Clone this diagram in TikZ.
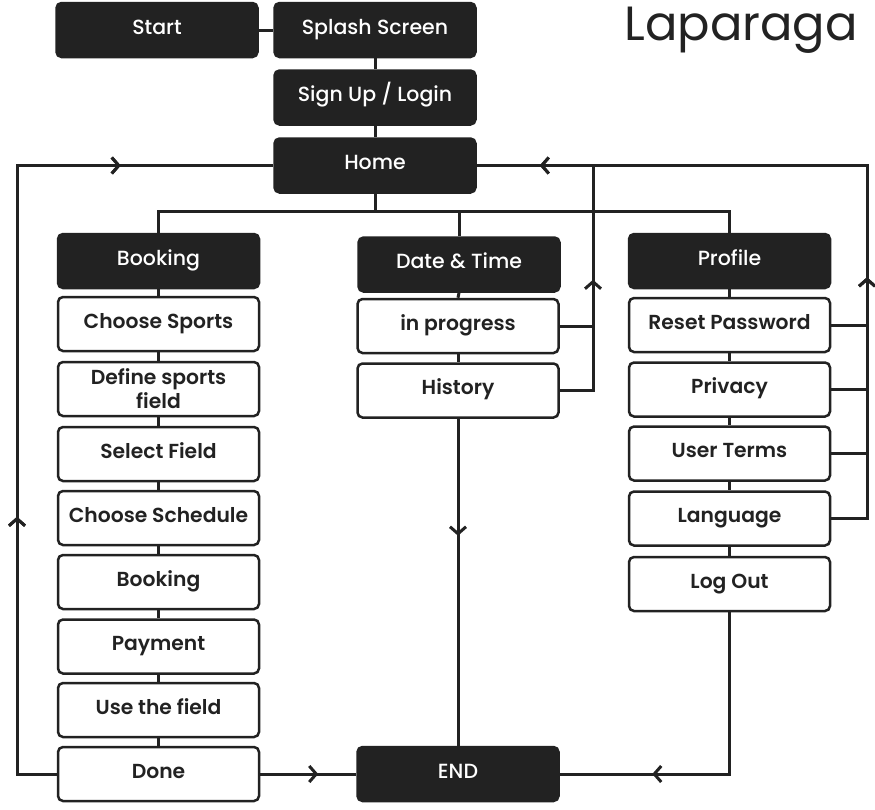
\documentclass[tikz,border=0pt]{standalone}
\usepackage{fontspec}
\setmainfont{Poppins}
\newfontfamily\popmed{Poppins Medium}
\newfontfamily\popsemi{Poppins SemiBold}
\usetikzlibrary{arrows.meta,decorations.markings}
\definecolor{ink}{HTML}{222222}
\tikzset{
  base/.style={rounded corners=5pt, minimum width=201pt, minimum height=54pt, inner sep=0pt, line width=2.5pt, align=center, text height=14pt, text depth=6pt},
  dark/.style={base, draw=ink, fill=ink, text=white, font=\fontsize{20.5}{24}\selectfont\popmed},
  light/.style={base, draw=ink, fill=white, text=ink, font=\fontsize{20.3}{24}\selectfont\popsemi},
  conn/.style={draw=ink, line width=3pt},
  chev/.style={postaction={decorate}, decoration={markings, mark=at position #1 with {\arrow[ink, line width=3pt]{Straight Barb[length=7pt, width=16pt]}}}}
}
\begin{document}
\begin{tikzpicture}[x=1pt, y=-1pt]
\useasboundingbox (0,0) rectangle (875,809);
% title
\node[anchor=base east, font=\fontsize{48}{52}\selectfont, text=ink, inner sep=0pt] (title) at (858,40) {Laparaga};
% top flow
\node[dark] (start) at (157,30) {Start};
\node[dark] (splash) at (375,30) {Splash Screen};
\node[dark] (signup) at (375,97.5) {Sign Up / Login};
\node[dark] (home) at (375,165.5) {Home};
% headers
\node[dark] (booking) at (158.5,261) {Booking};
\node[dark] (dt) at (459,264.5) {Date \& Time};
\node[dark] (profile) at (729.5,261) {Profile};
\node[dark] (end) at (458,774) {END};
% booking column
\node[light] (b1) at (158.5,324) {Choose Sports};
\node[light, text height=40pt, text depth=2pt] (b2) at (158.5,389) {Define sports\\field};
\node[light] (b3) at (158.5,454) {Select Field};
\node[light] (b4) at (158.5,518) {Choose Schedule};
\node[light] (b5) at (158.5,582) {Booking};
\node[light] (b6) at (158.5,646.5) {Payment};
\node[light] (b7) at (158.5,710) {Use the field};
\node[light] (b8) at (158.5,774) {Done};
% date column
\node[light] (d1) at (458,326) {in progress};
\node[light] (d2) at (458,390.5) {History};
% profile column
\node[light] (p1) at (729.5,325) {Reset Password};
\node[light] (p2) at (729.5,389.5) {Privacy};
\node[light] (p3) at (729.5,453.5) {User Terms};
\node[light] (p4) at (729.5,518.5) {Language};
\node[light] (p5) at (729.5,584) {Log Out};
% hub coordinates
\coordinate (hub) at (375,211);
\coordinate (lx) at (17,0);
\coordinate (mx) at (593,0);
\coordinate (rx) at (867,0);
\draw[conn] (start.east) -- (splash.west);
\draw[conn] (splash.south) -- (signup.north);
\draw[conn] (signup.south) -- (home.north);
\draw[conn] (home.south) -- (hub);
\draw[conn] (booking.north) |- (hub) -| (profile.north);
\draw[conn] (dt.north) -- (dt.north |- hub);
% column links
\draw[conn] (booking.south) -- (b1.north);
\draw[conn] (b1.south) -- (b2.north);
\draw[conn] (b2.south) -- (b3.north);
\draw[conn] (b3.south) -- (b4.north);
\draw[conn] (b4.south) -- (b5.north);
\draw[conn] (b5.south) -- (b6.north);
\draw[conn] (b6.south) -- (b7.north);
\draw[conn] (b7.south) -- (b8.north);
\draw[conn] (dt.south) -- (d1.north);
\draw[conn] (d1.south) -- (d2.north);
\draw[conn] (profile.south) -- (p1.north);
\draw[conn] (p1.south) -- (p2.north);
\draw[conn] (p2.south) -- (p3.north);
\draw[conn] (p3.south) -- (p4.north);
\draw[conn] (p4.south) -- (p5.north);
% left loop Done -> Home
\draw[conn, chev=297pt, chev=752pt] (b8.west) -- (b8.west -| lx) -- (home.west -| lx) -- (home.west);
% date loop
\draw[conn] (d1.east) -- (d1.east -| mx);
\draw[conn, chev=144pt] (d2.east) -- (d2.east -| mx) -- (home.east -| mx);
% profile loop
\draw[conn] (p1.east) -- (p1.east -| rx);
\draw[conn] (p2.east) -- (p2.east -| rx);
\draw[conn] (p3.east) -- (p3.east -| rx);
\draw[conn, chev=277pt, chev=716pt] (p4.east) -- (p4.east -| rx) -- (home.east -| rx) -- (home.east);
% to END
\draw[conn, chev=117pt] (d2.south) -- (end.north);
\draw[conn, chev=58pt] (b8.east) -- (end.west);
\draw[conn, chev=239pt] (p5.south) -- (p5.south |- end.east) -- (end.east);
\end{tikzpicture}
\end{document}
